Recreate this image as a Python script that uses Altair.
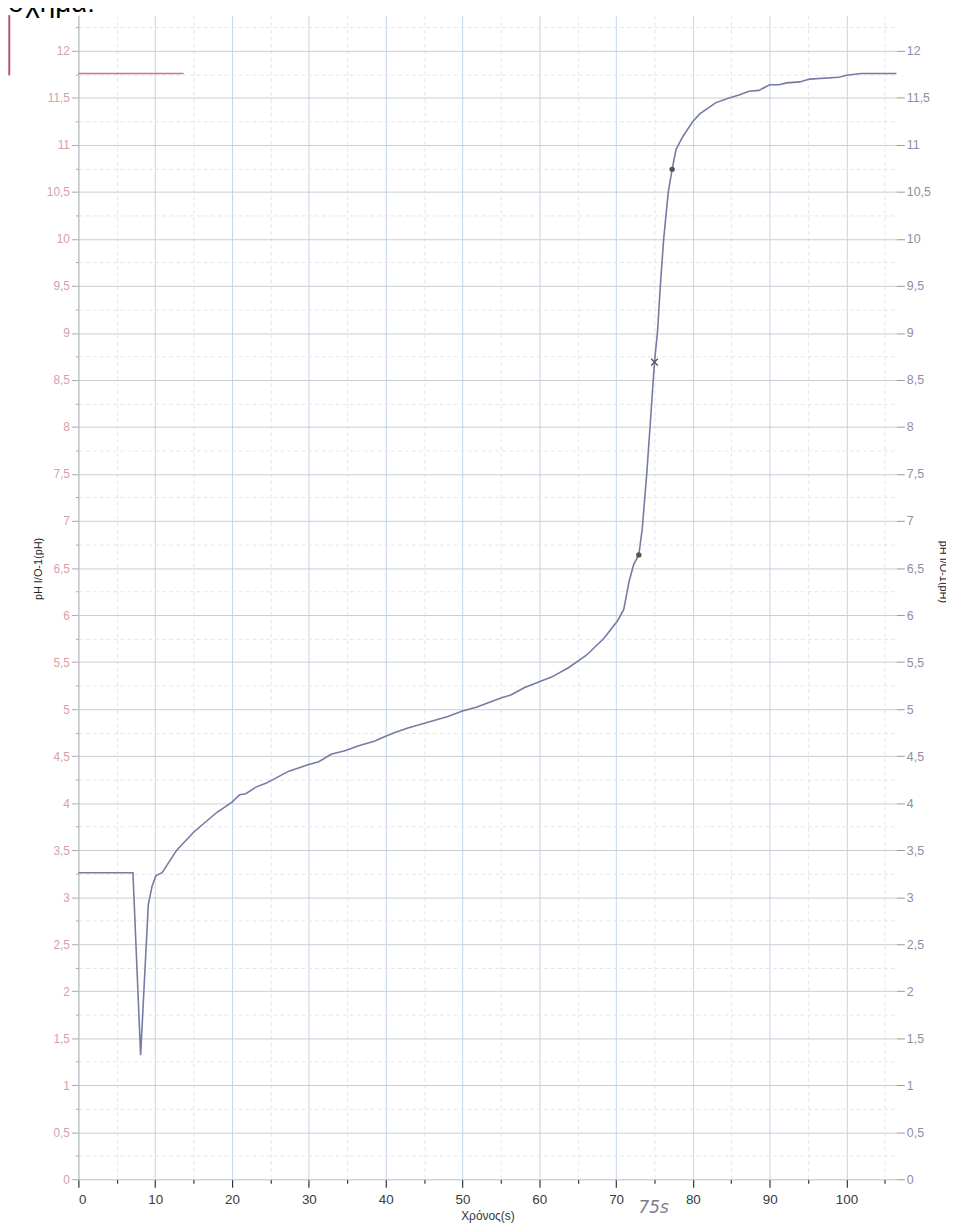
import altair as alt
import pandas as pd

# ---- data ----
time_s = [0.0, 7.1, 8.1, 9.1, 9.6, 10.1, 10.9, 12.8, 15.0, 18.0, 20.0, 21.0, 21.8,
          23.1, 24.4, 27.4, 30.0, 31.3, 32.9, 34.8, 36.5, 38.6, 40.0, 41.2, 42.9,
          45.5, 48.1, 50.0, 51.8, 55.1, 56.3, 58.1, 60.0, 61.6, 63.8, 66.1, 68.4,
          70.2, 71.0, 71.7, 72.3, 72.96, 73.4, 74.0, 74.6, 75.0, 75.4, 75.8, 76.2,
          76.8, 77.3, 77.8, 78.7, 80.0, 80.9, 83.0, 84.7, 86.0, 87.3, 88.6, 90.0,
          91.2, 92.2, 93.9, 95.2, 99.0, 100.0, 101.9, 106.5]
ph_values = [3.26, 3.26, 1.32, 2.92, 3.12, 3.23, 3.26, 3.50, 3.69, 3.90, 4.01, 4.09, 4.10,
             4.17, 4.21, 4.34, 4.41, 4.44, 4.52, 4.56, 4.61, 4.66, 4.71, 4.75, 4.80,
             4.86, 4.92, 4.98, 5.02, 5.12, 5.15, 5.23, 5.29, 5.34, 5.44, 5.57, 5.75,
             5.94, 6.06, 6.36, 6.54, 6.64, 6.91, 7.51, 8.21, 8.69, 9.02, 9.55, 10.0,
             10.5, 10.74, 10.95, 11.09, 11.25, 11.33, 11.45, 11.50, 11.53, 11.57, 11.58, 11.64,
             11.64, 11.66, 11.67, 11.70, 11.72, 11.74, 11.76, 11.76]

marked_t = [72.96, 77.3]
marked_ph = [6.64, 10.74]
equiv_t = [75.0]
equiv_ph = [8.69]

red_t = [0.0]
red_t2 = [13.7]
red_ph = [11.76]

edge_t = [-9.0]
edge_ph = [11.74]
edge_ph2 = [12.38]

note_t = [74.9]
note_text = ["75s"]

x_major = list(range(0, 101, 10))
x_minor = [5 + 10 * i for i in range(11)]
y_major = [0.5 * i for i in range(25)]
y_minor = [0.25 + 0.5 * i for i in range(25)]

X_DOMAIN = [0, 106.5]
Y_DOMAIN = [0, 12.38]

df = pd.DataFrame({"t": time_s, "ph": ph_values})
xs = alt.Scale(domain=X_DOMAIN, nice=False, zero=False)
ys = alt.Scale(domain=Y_DOMAIN, nice=False, zero=False)
comma = "replace(format(datum.value, '~g'), '.', ',')"
FONT = "Liberation Sans"

minor = alt.Chart(df).mark_line(opacity=0).encode(
    x=alt.X("t:Q", scale=xs, axis=alt.Axis(
        orient="bottom", values=x_minor, labels=False, domain=False,
        tickSize=4, tickColor="#333333", tickWidth=1.2,
        grid=True, gridColor="#e0e7ef", gridDash=[4, 3], title=None)),
    y=alt.Y("ph:Q", scale=ys, axis=alt.Axis(
        orient="left", values=y_minor, labels=False, domain=False,
        tickSize=3, tickColor="#aaaaaa",
        grid=True, gridColor="#e3e6ea", gridDash=[4, 3], title=None)),
)

major = alt.Chart(df).mark_line(opacity=0).encode(
    x=alt.X("t:Q", scale=xs, axis=alt.Axis(
        orient="bottom", values=x_major, format="d",
        labelFont=FONT, labelFontSize=13.5, labelColor="#3a3a3a", labelPadding=5,
        tickSize=8, tickColor="#333333", tickWidth=1.2,
        domain=True, domainColor="#c8cdd3",
        grid=True, gridColor="#c4d5e6",
        title="Χρόνος(s)", titleFont=FONT, titleFontSize=12, titleFontWeight="normal",
        titleColor="#333333", titleY=32, titleBaseline="top")),
    y=alt.Y("ph:Q", scale=ys, axis=alt.Axis(
        orient="left", values=y_major, labelExpr=comma,
        labelFont=FONT, labelFontSize=12, labelColor="#d6a0aa", labelPadding=2,
        tickSize=7, tickColor="#aaaaaa",
        domain=True, domainColor="#bbbbbb",
        grid=True, gridColor="#c9ced4",
        title="pH I/O-1(pH)", titleFont=FONT, titleFontSize=11, titleFontWeight="normal",
        titleColor="#222222", titleAngle=-90, titleX=-40, titleY=558,
        titleAlign="center", titleBaseline="middle")),
)

right = alt.Chart(df).mark_line(opacity=0).encode(
    x=alt.X("t:Q", scale=xs, axis=None),
    y=alt.Y("ph:Q", scale=ys, axis=alt.Axis(
        orient="right", values=y_major, labelExpr=comma,
        labelFont=FONT, labelFontSize=12.5, labelColor="#8a90a6", labelPadding=2,
        tickSize=8, tickColor="#999999", domain=False, grid=False,
        title="pH I/O-1(pH)", titleFont=FONT, titleFontSize=11, titleFontWeight="normal",
        titleColor="#222222", titleAngle=90, titleX=46, titleY=561,
        titleAlign="center", titleBaseline="middle")),
)

curve = alt.Chart(df).mark_line(color="#767ba3", strokeWidth=1.6).encode(
    x=alt.X("t:Q", scale=xs, axis=None),
    y=alt.Y("ph:Q", scale=ys, axis=None),
)

dots = alt.Chart(pd.DataFrame({"t": marked_t, "ph": marked_ph})).mark_point(
    filled=True, size=30, color="#555555", opacity=1).encode(
    x=alt.X("t:Q", scale=xs, axis=None),
    y=alt.Y("ph:Q", scale=ys, axis=None),
)

cross = alt.Chart(pd.DataFrame({"t": equiv_t, "ph": equiv_ph})).mark_point(
    shape="M-1,-1L1,1M-1,1L1,-1", filled=False, size=45, strokeWidth=1.3,
    color="#555555", opacity=1).encode(
    x=alt.X("t:Q", scale=xs, axis=None),
    y=alt.Y("ph:Q", scale=ys, axis=None),
)

red_line = alt.Chart(pd.DataFrame({"t": red_t, "t2": red_t2, "ph": red_ph})).mark_rule(
    color="#c97a7f", strokeWidth=1.5).encode(
    x=alt.X("t:Q", scale=xs, axis=None),
    x2="t2:Q",
    y=alt.Y("ph:Q", scale=ys, axis=None),
)

edge_line = alt.Chart(pd.DataFrame({"t": edge_t, "ph": edge_ph, "ph2": edge_ph2})).mark_rule(
    color="#b8566a", strokeWidth=2).encode(
    x=alt.X("t:Q", scale=xs, axis=None),
    y=alt.Y("ph:Q", scale=ys, axis=None),
    y2="ph2:Q",
)

note = alt.Chart(pd.DataFrame({"t": note_t, "label": note_text})).mark_text(
    font="DejaVu Sans", fontSize=17, fontStyle="italic", color="#7a7d90",
    align="center", baseline="middle").encode(
    x=alt.X("t:Q", scale=xs, axis=None),
    y=alt.value(1203),
    text="label:N",
)

heading = alt.Chart(pd.DataFrame({"label": ["σχήμα:"]})).mark_text(
    font=FONT, fontSize=28, color="#000000", align="left", baseline="alphabetic").encode(
    x=alt.value(-71),
    y=alt.value(-3),
    text="label:N",
)

chart = alt.layer(
    minor, major, right, curve, red_line, edge_line, dots, cross, note, heading
).resolve_axis(
    x="independent", y="independent"
).properties(
    width=825, height=1174,
    padding={"left": 71, "top": 2, "right": 50, "bottom": 47},
    autosize=alt.AutoSizeParams(type="none"),
).configure_view(stroke=None)

chart.save("out.html", embed_options={"renderer": "svg", "actions": False})
